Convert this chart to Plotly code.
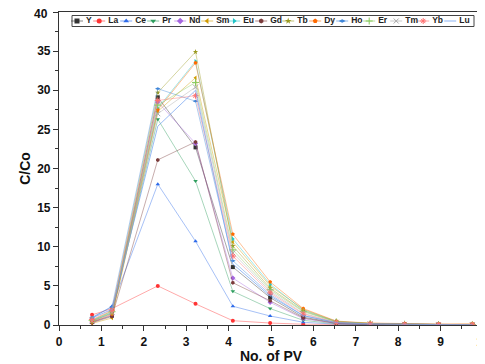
import plotly.graph_objects as go

pv = [0.78, 1.25, 2.33, 3.22, 4.10, 4.98, 5.76, 6.54, 7.34, 8.15, 8.95, 9.75]

elements = ["Y", "La", "Ce", "Pr", "Nd", "Sm", "Eu", "Gd", "Tb", "Dy", "Ho", "Er", "Tm", "Yb", "Lu"]

Y  = [0.4, 1.2, 29.1, 22.7, 7.4, 3.5, 1.0, 0.25, 0.12, 0.06, 0.04, 0.03]
La = [1.3, 2.1, 5.0, 2.7, 0.55, 0.25, 0.1, 0.05, 0.03, 0.02, 0.02, 0.02]
Ce = [0.9, 2.4, 18.0, 10.7, 2.4, 1.15, 0.35, 0.1, 0.05, 0.03, 0.02, 0.02]
Pr = [0.5, 1.5, 26.3, 18.4, 4.3, 2.1, 0.6, 0.15, 0.07, 0.04, 0.03, 0.02]
Nd = [0.3, 1.3, 28.5, 23.2, 6.0, 2.9, 0.8, 0.2, 0.1, 0.05, 0.04, 0.03]
Sm = [0.2, 0.9, 27.3, 31.6, 10.6, 5.0, 2.0, 0.45, 0.22, 0.12, 0.08, 0.1]
Eu = [0.5, 1.6, 27.7, 33.7, 11.0, 5.2, 1.9, 0.45, 0.2, 0.1, 0.06, 0.05]
Gd = [0.3, 1.1, 21.1, 23.4, 5.4, 3.1, 0.9, 0.2, 0.1, 0.05, 0.04, 0.03]
Tb = [0.6, 1.8, 29.7, 34.9, 10.1, 4.7, 1.8, 0.4, 0.2, 0.1, 0.06, 0.05]
Dy = [0.4, 1.4, 27.5, 33.5, 11.6, 5.5, 2.1, 0.5, 0.25, 0.15, 0.12, 0.15]
Ho = [1.0, 2.3, 30.2, 28.6, 8.2, 3.9, 1.2, 0.3, 0.15, 0.08, 0.05, 0.04]
Er = [0.6, 1.7, 28.1, 31.0, 9.6, 4.5, 1.7, 0.4, 0.18, 0.1, 0.06, 0.05]
Tm = [0.5, 1.6, 27.0, 30.4, 9.2, 4.3, 1.5, 0.35, 0.15, 0.08, 0.05, 0.04]
Yb = [0.7, 1.9, 28.7, 29.3, 8.8, 4.1, 1.4, 0.3, 0.15, 0.08, 0.05, 0.04]
Lu = [0.9, 2.0, 25.4, 30.0, 7.8, 3.7, 1.2, 0.3, 0.14, 0.07, 0.05, 0.04]

series = [Y, La, Ce, Pr, Nd, Sm, Eu, Gd, Tb, Dy, Ho, Er, Tm, Yb, Lu]

y_ticks = [0, 5, 10, 15, 20, 25, 30, 35, 40]
x_ticks = [0, 1, 2, 3, 4, 5, 6, 7, 8, 9, 10]

colors = ["#333333", "#FF3333", "#2E6BEA", "#2E9E5E", "#A666E0", "#D09A00", "#22C4C8",
          "#7A3B3B", "#9A9A20", "#FF6A00", "#3F86D8", "#86C85A", "#A8A8A8", "#FF7070", "#6FA0F0"]
symbols = ["square", "circle", "triangle-up", "triangle-down", "diamond", "triangle-left",
           "triangle-right", "hexagon", "star", "pentagon", "diamond-wide", "cross-thin",
           "x-thin", "asterisk", None]


def rgba(hexc, a):
    h = hexc.lstrip("#")
    r, g, b = int(h[0:2], 16), int(h[2:4], 16), int(h[4:6], 16)
    return f"rgba({r},{g},{b},{a})"


fig = go.Figure()
for name, vals, col, sym in zip(elements, series, colors, symbols):
    if sym is None:
        fig.add_trace(go.Scatter(x=pv, y=vals, mode="lines", name=name,
                                 line=dict(color=rgba(col, 0.7), width=1), showlegend=False))
    else:
        thin = sym.endswith("-thin") or sym == "asterisk"
        fig.add_trace(go.Scatter(
            x=pv, y=vals, mode="lines+markers", name=name,
            line=dict(color=rgba(col, 0.42), width=1),
            marker=dict(symbol=sym, size=4 if not thin else 5, color=col,
                        line=dict(color=col, width=1 if thin else 0)),
            showlegend=False))

# ---- custom one-row legend on an auxiliary pixel-like axis ----
PW, PH = 424, 313
leg_y = 304
x_pos = []
cur = 18.0
for i, name in enumerate(elements):
    x_pos.append(cur)
    cur += 17.4 + 4.8 * len(name)

for name, col, sym, xm in zip(elements, colors, symbols, x_pos):
    thin = sym is not None and (sym.endswith("-thin") or sym == "asterisk")
    fig.add_trace(go.Scatter(
        x=[xm - 6, xm + 6], y=[leg_y, leg_y], mode="lines",
        line=dict(color=rgba(col, 0.6) if sym else rgba(col, 0.8), width=1),
        xaxis="x2", yaxis="y2", showlegend=False, hoverinfo="skip"))
    if sym is not None:
        fig.add_trace(go.Scatter(
            x=[xm], y=[leg_y], mode="markers",
            marker=dict(symbol=sym, size=5, color=col, line=dict(color=col, width=1 if thin else 0)),
            xaxis="x2", yaxis="y2", showlegend=False, hoverinfo="skip"))

fig.add_trace(go.Scatter(
    x=[xm + 9 for xm in x_pos], y=[leg_y] * len(elements), mode="text",
    text=elements, textposition="middle right",
    textfont=dict(family="Liberation Sans", size=8.5, color="#222", weight="bold"),
    xaxis="x2", yaxis="y2", showlegend=False, hoverinfo="skip"))

fig.add_shape(type="rect", xref="x2", yref="y2", x0=13, x1=415, y0=298.5, y1=309.5,
              line=dict(color="#444", width=1), fillcolor="rgba(255,255,255,0)", layer="below")

tickfont = dict(family="Liberation Sans", size=12, color="#111", weight="bold")
titlefont = dict(family="Liberation Sans", size=14, color="#111", weight="bold")

# top y tick label sits at the very top of the page: plotly would drop it, so place it as an annotation
fig.add_annotation(x=-9.5 / PW, xref="paper", y=y_ticks[-1], yref="y", text=str(y_ticks[-1]),
                   showarrow=False, xanchor="right", yanchor="middle", yshift=-1.5, font=tickfont)

# the page body has an 8px margin, so the figure is sized/offset to land the plot
# area at the same window position as the reference
fig.update_layout(
    width=492, height=356,
    margin=dict(l=51, r=17, t=4, b=39),
    paper_bgcolor="white", plot_bgcolor="white",
    showlegend=False,
    xaxis=dict(range=[0, 10.0001], tickvals=x_ticks, showgrid=False, zeroline=False,
               showline=True, linecolor="#333", linewidth=1.2, mirror=True,
               ticks="outside", ticklen=5, tickcolor="#333", tickwidth=1,
               minor=dict(ticks="outside", ticklen=3, dtick=0.5, tickcolor="#333"),
               tickfont=tickfont,
               title=dict(text="No. of PV", font=titlefont, standoff=1)),
    yaxis=dict(range=[0, 40.0001], tickvals=y_ticks,
               ticktext=[str(v) for v in y_ticks[:-1]] + [""],
               showgrid=False, zeroline=False,
               showline=True, linecolor="#333", linewidth=1.2, mirror=True,
               ticks="outside", ticklen=5, tickcolor="#333", tickwidth=1,
               minor=dict(ticks="outside", ticklen=3, dtick=2.5, tickcolor="#333"),
               tickfont=tickfont,
               title=dict(text="C/Co", font=titlefont, standoff=3)),
    xaxis2=dict(overlaying="x", anchor="y2", range=[0, PW], visible=False, fixedrange=True),
    yaxis2=dict(overlaying="y", anchor="x2", range=[0, PH], visible=False, fixedrange=True),
)

fig.write_html("out.html")
